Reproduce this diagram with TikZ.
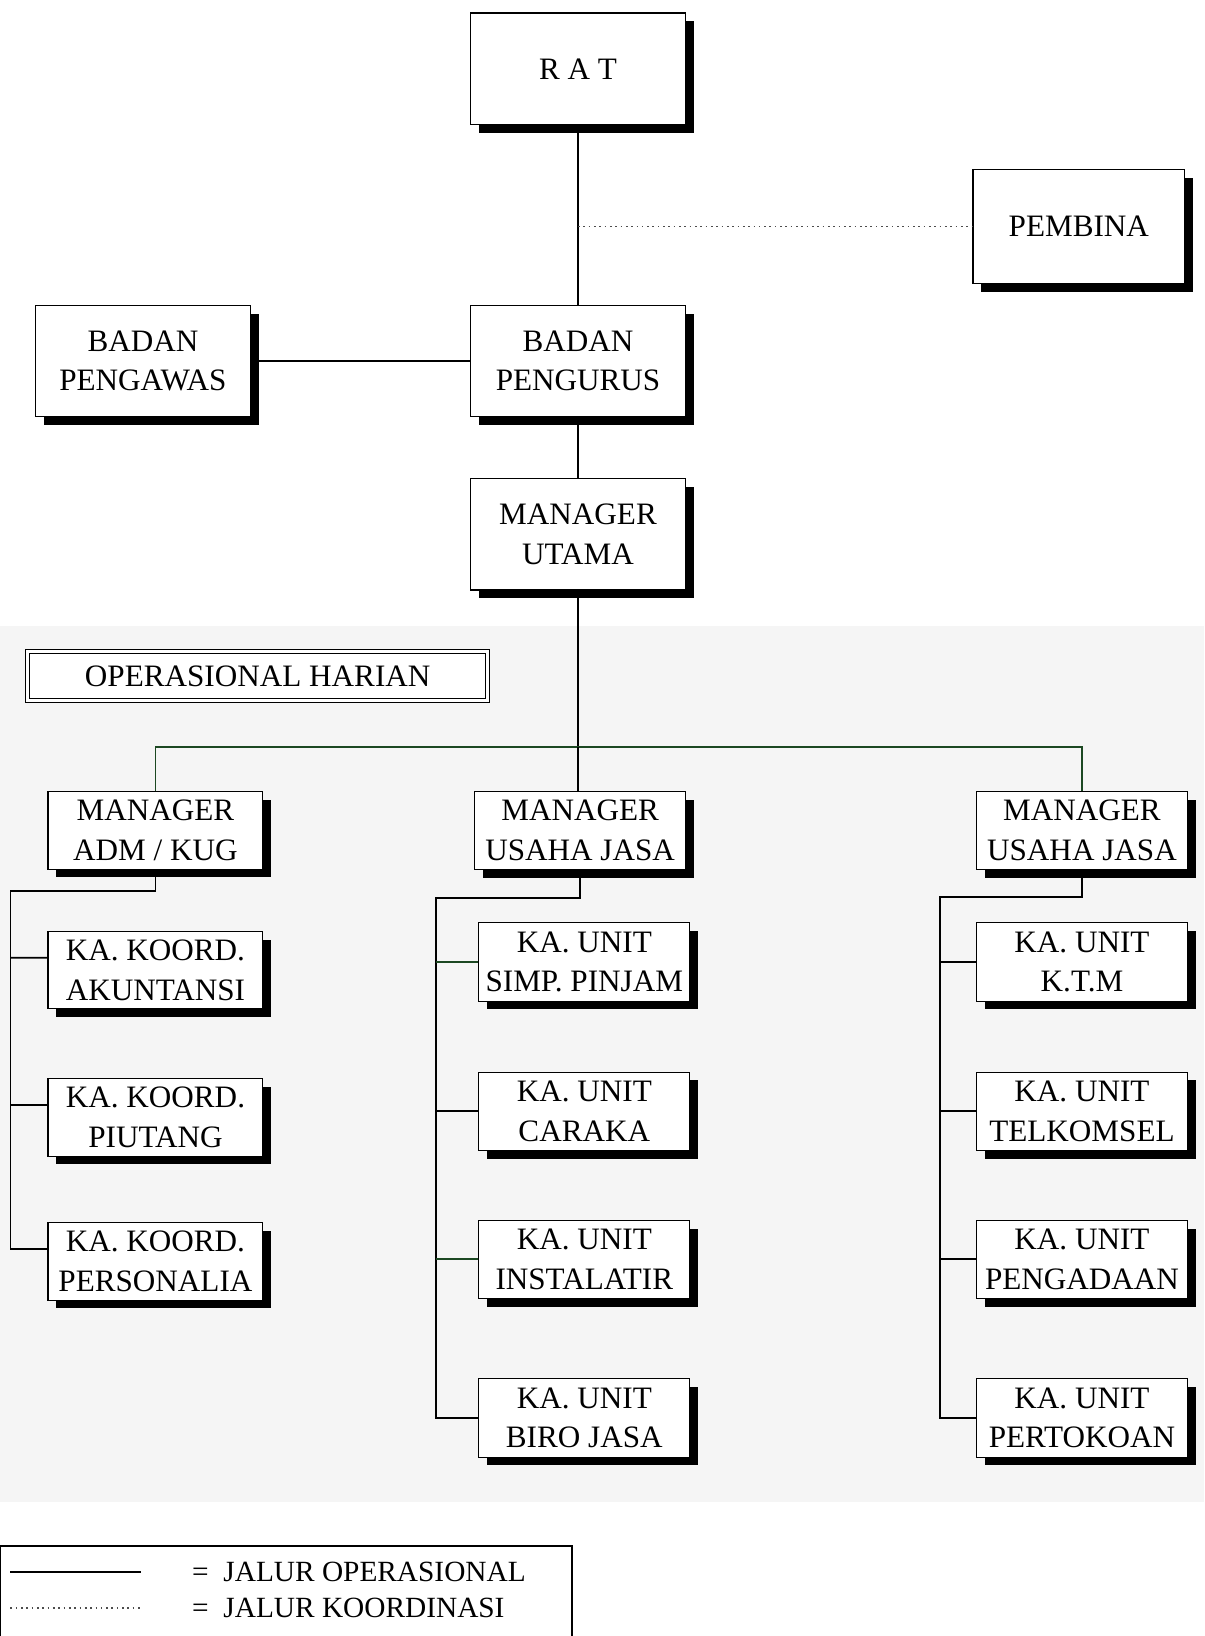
\documentclass[tikz,border=0pt]{standalone}
\usepackage{fontspec}
\setmainfont{Liberation Serif}
\usepackage{tikz}
\usetikzlibrary{shadows}

\tikzset{
  unit/.style={draw, line width=0.6pt, fill=white, align=center, inner sep=0pt,
    font=\fontsize{17}{21.5}\selectfont,
    drop shadow={shadow xshift=1.6mm, shadow yshift=-1.6mm, fill=black, opacity=1}},
  bigbox/.style={unit, minimum width=41.2mm, minimum height=21.4mm},
  midbox/.style={unit, minimum width=41.2mm, minimum height=14.8mm},
  subbox/.style={unit, minimum width=40.4mm, minimum height=15mm},
  opline/.style={line width=1pt},
  coline/.style={line width=0.9pt, dotted, black!70}
}
\definecolor{bargreen}{RGB}{28,72,34}

\begin{document}
\begin{tikzpicture}[x=0.2mm, y=-0.2mm]
  \useasboundingbox (0,0) rectangle (1154,1568);
  \fill[black!4] (0,600) rectangle (1154,1440);

  % Draw top units
  \node[bigbox] (rat) at (554,66) {R A T};
  \node[bigbox, minimum width=40.6mm, minimum height=21.8mm] (pembina) at (1034,217) {PEMBINA};
  \node[bigbox] (pengawas) at (137,346) {BADAN\\PENGAWAS};
  \node[bigbox] (pengurus) at (554,346) {BADAN\\PENGURUS};
  \node[bigbox] (utama) at (554,512) {MANAGER\\UTAMA};
  \node[draw, double, double distance=1.6pt, line width=0.6pt, fill=white,
    minimum width=88.2mm, minimum height=9.4mm, inner sep=0pt,
    font=\fontsize{17}{21.5}\selectfont] (ophar) at (247,648) {OPERASIONAL HARIAN};

  % Draw managers
  \node[midbox] (adm) at (149,796) {MANAGER\\ADM / KUG};
  \node[subbox] (jasaA) at (556,796) {MANAGER\\USAHA JASA};
  \node[subbox] (jasaB) at (1037,796) {MANAGER\\USAHA JASA};

  % Draw units below managers
  \node[midbox] (akuntansi) at (149,930) {KA. KOORD.\\AKUNTANSI};
  \node[midbox] (piutang) at (149,1071) {KA. KOORD.\\PIUTANG};
  \node[midbox] (personalia) at (149,1209) {KA. KOORD.\\PERSONALIA};

  \node[subbox] (simpinjam) at (560,922) {KA. UNIT\\SIMP. PINJAM};
  \node[subbox] (caraka) at (560,1065) {KA. UNIT\\CARAKA};
  \node[subbox] (instalatir) at (560,1207) {KA. UNIT\\INSTALATIR};
  \node[subbox] (birojasa) at (560,1359) {KA. UNIT\\BIRO JASA};

  \node[subbox] (ktm) at (1037,922) {KA. UNIT\\K.T.M};
  \node[subbox] (telkomsel) at (1037,1065) {KA. UNIT\\TELKOMSEL};
  \node[subbox] (pengadaan) at (1037,1207) {KA. UNIT\\PENGADAAN};
  \node[subbox] (pertokoan) at (1037,1359) {KA. UNIT\\PERTOKOAN};

  % Draw operational lines
  \draw[opline] (rat) -- (pengurus);
  \draw[opline] (pengurus) -- (utama);
  \draw[opline] (pengawas) -- (pengurus);
  \draw[coline] (pembina.west -| rat.south) -- (pembina.west);

  \coordinate (bar) at (utama.south |- 0,716);
  \draw[opline] (utama.south) -- (bar);
  \draw[opline, bargreen] (adm.north) |- (bar) -| (jasaB.north);
  \draw[opline] (bar) -- (bar |- jasaA.north);

  % Draw branches
  \coordinate (admspine) at (10,854);
  \draw[opline] (adm.south) |- (admspine) |- ([yshift=2.4mm]personalia.west);
  \draw[opline] (admspine |- akuntansi.west) ++(0,-12) -- ([yshift=2.4mm]akuntansi.west);
  \draw[opline] (admspine |- piutang.west) ++(0,-12) -- ([yshift=2.4mm]piutang.west);

  \coordinate (jasaAspine) at (418,861);
  \draw[opline] (jasaA.south) |- (jasaAspine) |- (birojasa.west);
  \draw[opline, bargreen] (jasaAspine |- simpinjam.west) -- (simpinjam.west);
  \draw[opline] (jasaAspine |- caraka.west) -- (caraka.west);
  \draw[opline, bargreen] (jasaAspine |- instalatir.west) -- (instalatir.west);

  \coordinate (jasaBspine) at (901,860);
  \draw[opline] (jasaB.south) |- (jasaBspine) |- (pertokoan.west);
  \draw[opline] (jasaBspine |- ktm.west) -- (ktm.west);
  \draw[opline] (jasaBspine |- telkomsel.west) -- (telkomsel.west);
  \draw[opline] (jasaBspine |- pengadaan.west) -- (pengadaan.west);

  % Legend
  \draw[line width=1.2pt] (0,1482) rectangle (548,1620);
  \node[anchor=west, font=\fontsize{16}{19}\selectfont] (legop) at (178,1507) {= \ JALUR OPERASIONAL};
  \node[anchor=west, font=\fontsize{16}{19}\selectfont] (legko) at (178,1541) {= \ JALUR KOORDINASI};
  \draw[opline] (10,1507) -- (135,1507);
  \draw[coline] (10,1541) -- (135,1541);
\end{tikzpicture}
\end{document}
